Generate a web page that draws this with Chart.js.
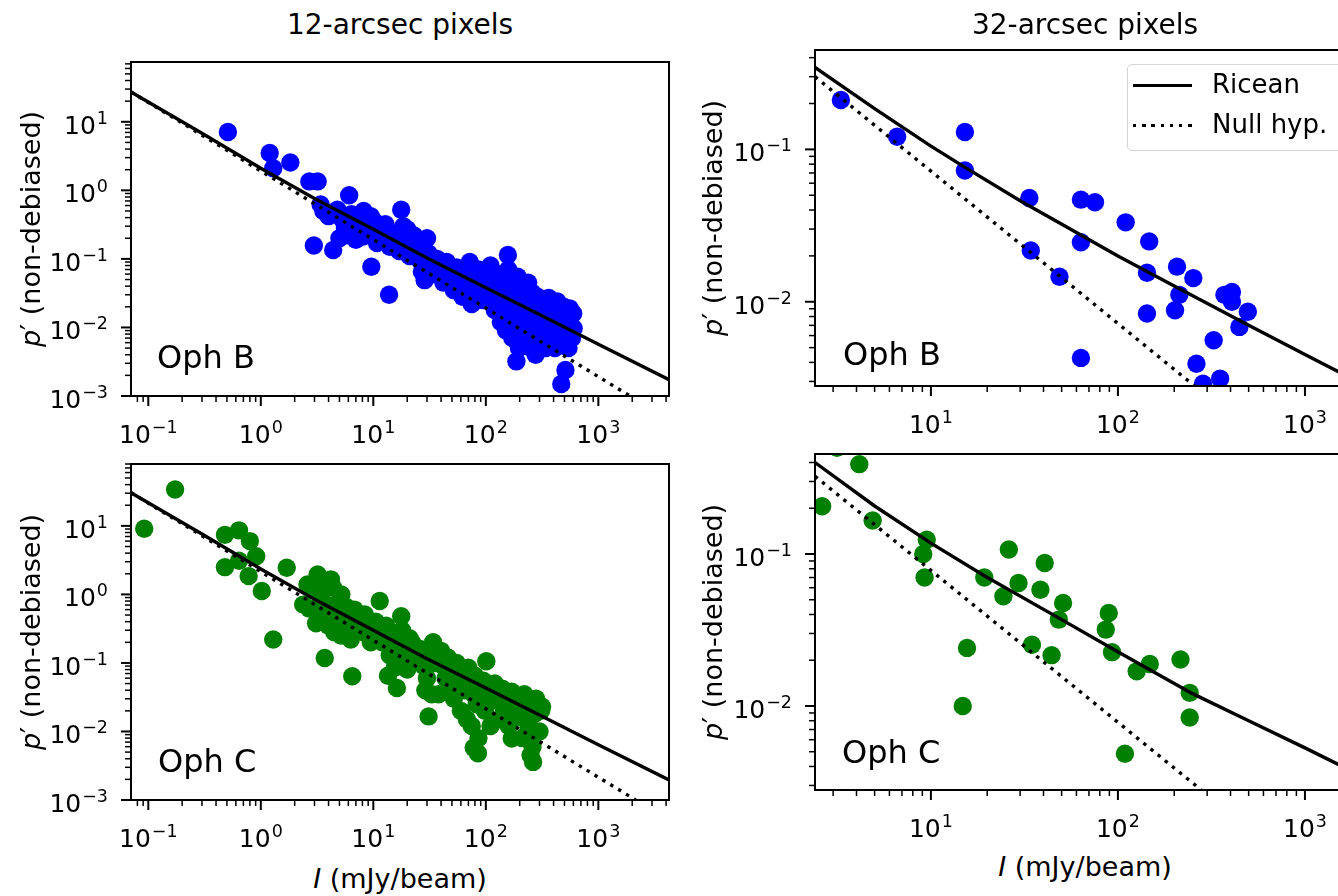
<!DOCTYPE html>
<html><head><meta charset="utf-8">
<script src="https://cdn.jsdelivr.net/npm/chart.js@4.4.1/dist/chart.umd.min.js"></script>
<style>
html,body{margin:0;padding:0;background:#fff;}
body{width:1338px;height:896px;overflow:hidden;position:relative;}
canvas{position:absolute;}
.t{position:absolute;white-space:nowrap;line-height:1;font-family:'DejaVu Sans',sans-serif;color:#000;}
.c{transform:translateX(-50%);}
.r{transform:translate(-50%,-50%) rotate(-90deg);}
</style></head><body>
<script>
// ---------------- DATA ----------------
// 12-arcsec pixels, Oph B
const obI12 = [0.51,1.2,1.29,1.83,2.7,3.2,3.4,2.96,4.4,6.1,9.6,13.8,17.7,20,30,28.6,157,187,468,510,603,556,
 3.6,4.0,4.8,5.3,5.6,6.0,6.4,6.8,7.2,7.6,8.2,8.6,9.0,9.5,10.2,10.8,11.5,12.3,12.8,5.0,7.0,8.0,
 14,15.5,17,19,21,22.5,24,26,27,31,33,35,37,40,23,18.5,13,
 42,45,48,52,55,58,62,65,68,72,75,78,82,86,90,95,100,105,110,115,120,
 124,131,136,142,146,151,158,161,167,172,177,181,188,192,197,203,206,212,218,221,228,232,238,243,247,252,258,262,268,273,277,283,288,292,297,305,
 312,322,331,342,353,362,371,383,392,404,412,423,432,445,452,463,478,492,503,522,543,562,583,598,575,560];
const obP12 = [7.1,3.5,2.1,2.55,1.35,1.35,0.62,0.157,0.135,0.85,0.077,0.030,0.52,0.27,0.20,0.049,0.114,0.0032,0.0015,0.0024,0.0097,0.019,
 0.5,0.42,0.52,0.38,0.28,0.22,0.45,0.32,0.26,0.4,0.5,0.3,0.22,0.42,0.35,0.17,0.28,0.22,0.32,0.2,0.19,0.21,
 0.15,0.23,0.13,0.18,0.11,0.16,0.13,0.095,0.065,0.12,0.085,0.06,0.10,0.075,0.22,0.3,0.26,
 0.045,0.09,0.06,0.035,0.075,0.05,0.028,0.065,0.04,0.09,0.022,0.055,0.035,0.07,0.045,0.025,0.06,0.03,0.08,0.045,0.018,
 0.06,0.03,0.012,0.05,0.022,0.009,0.07,0.035,0.016,0.007,0.045,0.025,0.012,0.055,0.005,0.03,0.018,0.008,0.04,0.013,0.006,0.025,0.045,0.01,0.019,0.005,0.032,0.014,0.008,0.022,0.004,0.011,0.028,0.017,0.006,0.013,
 0.025,0.009,0.018,0.005,0.012,0.027,0.007,0.015,0.021,0.009,0.005,0.013,0.024,0.008,0.017,0.011,0.006,0.02,0.009,0.014,0.005,0.011,0.007,0.016,0.009,0.012];
// 12-arcsec pixels, Oph C
const ocI12 = [0.092,0.173,0.48,0.64,0.80,0.48,0.64,0.78,0.91,1.02,1.29,1.7,2.38,2.6,3.2,4.2,5.2,3.1,3.7,6.5,11.4,8.4,17.7,21,16.2,31,101,78,85,263,316,170,
 2.9,3.4,3.6,3.9,4.4,4.7,5.0,5.5,4.0,4.5,5.2,6.0,6.3,7.0,7.5,8.2,9.0,9.5,3.3,2.7,6.8,5.8,
 10.5,11,12,13,14,15,16,17,18,19,20,22,24,26,28,30,32,34,36,38,40,33,29,13.5,15.5,
 42,44,46,48,50,52,55,58,60,62,65,68,70,72,75,78,80,83,86,88,92,95,98,105,110,115,120,
 125,130,140,145,150,160,170,180,190,200,210,220,230,240,250,260,270,280,290,300,310,250,230];
const ocP12 = [9.1,34,7.4,8.6,6.0,2.5,3.1,1.85,3.6,1.12,0.22,2.45,0.71,1.4,1.96,1.66,1.0,0.38,0.118,0.064,0.80,0.51,0.48,0.23,0.043,0.0166,0.106,0.0058,0.0048,0.0036,0.023,0.0079,
 1.2,0.9,1.5,0.7,1.25,0.55,0.8,0.45,0.35,0.28,0.25,0.35,0.22,0.3,0.42,0.28,0.35,0.2,0.5,0.62,0.6,0.65,
 0.4,0.28,0.2,0.35,0.13,0.25,0.1,0.18,0.3,0.14,0.08,0.2,0.12,0.16,0.09,0.06,0.13,0.2,0.1,0.035,0.15,0.035,0.04,0.065,0.085,
 0.09,0.06,0.12,0.045,0.08,0.03,0.1,0.055,0.02,0.07,0.04,0.015,0.085,0.05,0.012,0.035,0.065,0.025,0.008,0.045,0.03,0.055,0.02,0.04,0.012,0.028,0.05,
 0.035,0.015,0.042,0.02,0.03,0.012,0.038,0.025,0.016,0.03,0.008,0.035,0.02,0.012,0.027,0.006,0.018,0.03,0.022,0.01,0.02,0.0045,0.009];
// 32-arcsec pixels, Oph B
const obI32 = [3.3,6.6,15.2,15.2,33.6,34.2,63.4,75.4,63.4,48.7,63.4,110,147,143,143,207,213,202,253,371,407,407,495,446,325,263,285,352];
const obP32 = [0.211,0.121,0.130,0.0727,0.048,0.0217,0.0468,0.045,0.0246,0.0146,0.00428,0.0332,0.0249,0.0155,0.00838,0.0170,0.0111,0.0088,0.0143,0.0111,0.0116,0.0100,0.0086,0.00684,0.00559,0.00392,0.0029,0.00313];
// 32-arcsec pixels, Oph C
const ocI32 = [2.62,3.15,4.14,4.88,9.5,9.1,9.25,19.3,24.4,26.1,29.4,38.5,40.6,50.9,48.3,34.7,44.2,15.6,14.8,89.3,86.1,93,126,148,216,242,242,109];
const ocP32 = [0.206,0.50,0.39,0.166,0.124,0.10,0.070,0.070,0.0527,0.107,0.0645,0.0582,0.0873,0.0476,0.037,0.0253,0.0216,0.0241,0.010,0.0409,0.0318,0.0226,0.0169,0.0189,0.0202,0.0122,0.0084,0.00485];

// Model curves
const ricI12 = [0.0702,0.3,1,3,10,30,100,300,1000,4246];
const ricBP12 = [27.2,6.8,2.1,0.76,0.27,0.103,0.038,0.0155,0.0057,0.00173];
const ricCP12 = [30.5,7.6,2.35,0.85,0.30,0.115,0.043,0.0174,0.0064,0.00196];
const nulBI12 = [0.0702,1914], nulBP12 = [27.3,0.001];
const nulCI12 = [0.0702,2150], nulCP12 = [30.6,0.001];
const ricI32 = [2.40,5,10,15,30,60,100,200,500,1000,1807];
const ricBP32 = [0.345,0.185,0.105,0.077,0.046,0.0285,0.020,0.0127,0.0070,0.0045,0.0031];
const ricCI32 = [2.40,5,10,19.4,50,95,249,500,1000,1807];
const ricCP32 = [0.40,0.207,0.118,0.0716,0.037,0.0235,0.0121,0.0080,0.0053,0.0037];
const nulBI32 = [2.40,257], nulBP32 = [0.30,0.0028];
const nulCI32 = [2.40,279], nulCP32 = [0.325,0.0028];

// Tick labels (decades)
const xTicks12 = [0.1,1,10,100,1000];
const yTicks12 = [0.001,0.01,0.1,1,10];
const xTicks32 = [10,100,1000];
const yTicks32 = [0.01,0.1];
const minorMult = [2,3,4,5,6,7,8,9];

// ---------------- DRAWING ----------------
const pts = (xs, ys) => xs.map((x, i) => ({x: x, y: ys[i]}));
const FONT = '"DejaVu Sans", sans-serif';

function drawPow(ctx, v, x, y, align) {
  const e = String(Math.round(Math.log10(v))).replace('-', '\u2212');
  ctx.font = '25px ' + FONT; const w1 = ctx.measureText('10').width;
  ctx.font = '17.5px ' + FONT; const w2 = ctx.measureText(e).width;
  const tw = w1 + 1 + w2;
  const x0 = align === 'center' ? x - tw / 2 : x - tw;
  ctx.textAlign = 'left'; ctx.textBaseline = 'alphabetic'; ctx.fillStyle = '#000';
  ctx.font = '25px ' + FONT; ctx.fillText('10', x0, y);
  ctx.font = '17.5px ' + FONT; ctx.fillText(e, x0 + w1 + 1, y - 10);
}

const decor = {
  id: 'decor',
  afterDatasetsDraw(chart, args, opts) {
    const ctx = chart.ctx, a = chart.chartArea, sx = chart.scales.x, sy = chart.scales.y;
    ctx.save();
    ctx.strokeStyle = '#000';
    const tickSet = (scale, horiz) => {
      const lo = Math.floor(Math.log10(scale.min)), hi = Math.ceil(Math.log10(scale.max));
      for (let e = lo; e <= hi; e++) {
        [1].concat(minorMult).forEach(m => {
          const v = m * Math.pow(10, e);
          if (v < scale.min * 0.9999 || v > scale.max * 1.0001) return;
          const p = scale.getPixelForValue(v);
          const len = m === 1 ? 10 : 6;
          ctx.lineWidth = m === 1 ? 2 : 1.5;
          ctx.beginPath();
          if (horiz) { ctx.moveTo(p, a.bottom); ctx.lineTo(p, a.bottom + len); }
          else { ctx.moveTo(a.left, p); ctx.lineTo(a.left - len, p); }
          ctx.stroke();
        });
      }
    };
    tickSet(sx, true); tickSet(sy, false);
    ctx.lineWidth = 2;
    ctx.strokeRect(a.left, a.top, a.right - a.left, a.bottom - a.top);
    opts.xt.forEach(v => drawPow(ctx, v, sx.getPixelForValue(v), a.bottom + 47, 'center'));
    opts.yt.forEach(v => drawPow(ctx, v, a.left - 23, sy.getPixelForValue(v) + 12, 'right'));
    ctx.restore();
  }
};

function panel(o) {
  const {L, T, R, B} = o.rect;
  const PL = 125, PT = 12, PR = 12, PB = 60;
  const w = R - L + PL + PR, h = B - T + PT + PB;
  const cv = document.createElement('canvas');
  cv.width = w; cv.height = h;
  cv.style.left = (L - PL) + 'px'; cv.style.top = (T - PT) + 'px';
  cv.style.width = w + 'px'; cv.style.height = h + 'px';
  document.body.appendChild(cv);
  new Chart(cv, {
    type: 'scatter',
    data: {datasets: [
      {data: pts(o.ricI, o.ricP), showLine: true, borderColor: '#000', borderWidth: 3.4, pointRadius: 0, tension: 0, clip: 0},
      {data: pts(o.nulI, o.nulP), showLine: true, borderColor: '#000', borderWidth: 3.4, borderDash: [3.4, 5.8], borderCapStyle: 'butt', pointRadius: 0, tension: 0, clip: 0},
      {data: pts(o.I, o.P), backgroundColor: o.color, borderWidth: 0, pointRadius: 9.2, pointHoverRadius: 9.2, clip: 0}
    ]},
    options: {
      responsive: false, animation: false, devicePixelRatio: 1, events: [],
      layout: {padding: {left: 0, top: PT, right: PR, bottom: 0}},
      plugins: {legend: {display: false}, tooltip: {enabled: false}, decor: {xt: o.xt, yt: o.yt}},
      scales: {
        x: {type: 'logarithmic', position: 'bottom', min: o.xr[0], max: o.xr[1],
            afterBuildTicks: s => { s.ticks = o.xt.map(v => ({value: v})); },
            afterFit: s => { s.height = PB; },
            grid: {display: false}, border: {display: false}, ticks: {display: false}},
        y: {type: 'logarithmic', position: 'left', min: o.yr[0], max: o.yr[1],
            afterBuildTicks: s => { s.ticks = o.yt.map(v => ({value: v})); },
            afterFit: s => { s.width = PL; },
            grid: {display: false}, border: {display: false}, ticks: {display: false}}
      }
    },
    plugins: [decor]
  });
}

panel({rect: {L: 131, T: 62, R: 669, B: 396}, xr: [0.0702, 4246], yr: [0.001, 74.5], xt: xTicks12, yt: yTicks12,
  I: obI12, P: obP12, ricI: ricI12, ricP: ricBP12, nulI: nulBI12, nulP: nulBP12, color: '#0000ff'});
panel({rect: {L: 131, T: 464, R: 669, B: 800}, xr: [0.0702, 4246], yr: [0.001, 80], xt: xTicks12, yt: yTicks12,
  I: ocI12, P: ocP12, ricI: ricI12, ricP: ricCP12, nulI: nulCI12, nulP: nulCP12, color: '#008000'});
panel({rect: {L: 815, T: 50, R: 1353, B: 386}, xr: [2.40, 1807], yr: [0.0028, 0.449], xt: xTicks32, yt: yTicks32,
  I: obI32, P: obP32, ricI: ricI32, ricP: ricBP32, nulI: nulBI32, nulP: nulBP32, color: '#0000ff'});
panel({rect: {L: 815, T: 454, R: 1353, B: 790}, xr: [2.40, 1807], yr: [0.0028, 0.455], xt: xTicks32, yt: yTicks32,
  I: ocI32, P: ocP32, ricI: ricCI32, ricP: ricCP32, nulI: nulCI32, nulP: nulCP32, color: '#008000'});
</script>

<div class="t c" style="left:400px;top:11px;font-size:28px;">12-arcsec pixels</div>
<div class="t c" style="left:1085px;top:11px;font-size:28px;">32-arcsec pixels</div>

<div class="t r" style="left:30px;top:229px;font-size:27px;"><i>p</i>′ (non-debiased)</div>
<div class="t r" style="left:30px;top:632px;font-size:27px;"><i>p</i>′ (non-debiased)</div>
<div class="t r" style="left:712px;top:218px;font-size:27px;"><i>p</i>′ (non-debiased)</div>
<div class="t r" style="left:712px;top:622px;font-size:27px;"><i>p</i>′ (non-debiased)</div>

<div class="t c" style="left:400px;top:865px;font-size:27px;"><i>I</i> (mJy/beam)</div>
<div class="t c" style="left:1085px;top:853px;font-size:27px;"><i>I</i> (mJy/beam)</div>

<div class="t" style="left:157px;top:341px;font-size:32px;">Oph B</div>
<div class="t" style="left:843px;top:338px;font-size:32px;">Oph B</div>
<div class="t" style="left:158px;top:745px;font-size:32px;">Oph C</div>
<div class="t" style="left:842px;top:736px;font-size:32px;">Oph C</div>

<div style="position:absolute;left:1127px;top:64px;width:240px;height:87px;box-sizing:border-box;border:1.5px solid #d4d4d4;border-radius:5px;background:rgba(255,255,255,0.8);"></div>
<div style="position:absolute;left:1133px;top:84px;width:59px;height:3.4px;background:#000;"></div>
<div style="position:absolute;left:1133px;top:124px;width:59px;height:3.4px;background:repeating-linear-gradient(to right,#000 0 3.4px,transparent 3.4px 9.2px);"></div>
<div class="t" style="left:1212px;top:71px;font-size:26px;">Ricean</div>
<div class="t" style="left:1212px;top:111px;font-size:26px;">Null hyp.</div>
</body></html>
